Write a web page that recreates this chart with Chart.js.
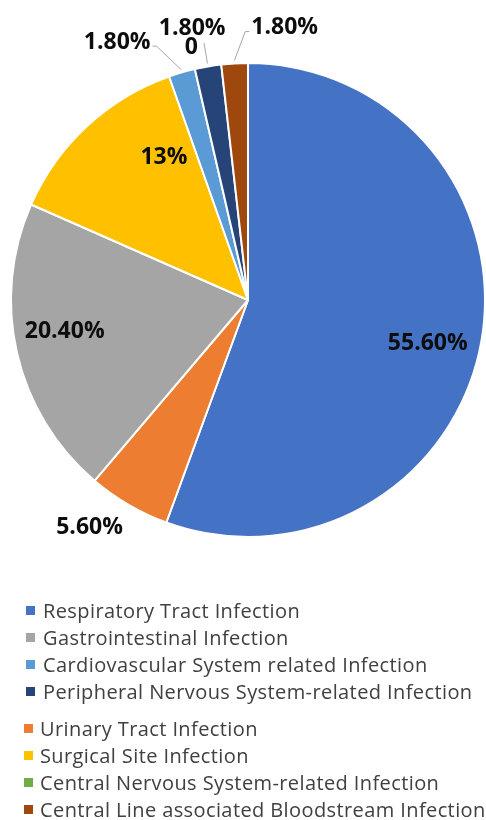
<!DOCTYPE html>
<html>
<head>
<meta charset="utf-8">
<script src="https://cdn.jsdelivr.net/npm/chart.js@4"></script>
<style>
  html, body { margin:0; padding:0; background:#fff; width:486px; height:820px; overflow:hidden; }
  #wrap { position:absolute; left:0; top:0; width:486px; height:600px; }
  #legend { position:absolute; left:0; top:597px; width:486px; font-family:"Open Sans", sans-serif; font-size:20px; letter-spacing:0.4px; color:#404040; white-space:nowrap; overflow:hidden; }
  .grp { margin-bottom:10px; }
  .item { height:27px; line-height:27px; position:relative; }
  .box { position:absolute; top:9px; width:9px; height:9px; }
</style>
</head>
<body>
<div id="wrap"><canvas id="pieChart"></canvas></div>
<div id="legend"></div>
<script>
const categories = ['Respiratory Tract Infection','Urinary Tract Infection','Gastrointestinal Infection','Surgical Site Infection',
  'Cardiovascular System related Infection','Central Nervous System-related Infection','Peripheral Nervous System-related Infection',
  'Central Line associated Bloodstream Infection'];
const shares = [55.6, 5.6, 20.4, 13, 1.8, 0, 1.8, 1.8];
const shareLabels = ['55.60%','5.60%','20.40%','13%','1.80%','0','1.80%','1.80%'];
const sliceColors = ['#4472C4','#ED7D31','#A5A5A5','#FFC000','#5B9BD5','#70AD47','#264478','#9E480E'];
// legend shows two stacked groups, in this order
const legendGroups = [
  ['Respiratory Tract Infection','Gastrointestinal Infection','Cardiovascular System related Infection','Peripheral Nervous System-related Infection'],
  ['Urinary Tract Infection','Surgical Site Infection','Central Nervous System-related Infection','Central Line associated Bloodstream Infection']
];

// label spots, polar around the pie: r = fraction of radius, d = degrees off the slice middle
const labelSpots = [
  {r:0.78, d:3.4}, {r:1.17, d:4.6}, {r:0.785, d:3.1}, {r:0.70, d:12.4},
  {r:1.22, d:-10.7, lead:'side'}, {r:1.09, d:0.3}, {r:1.17, d:-1.9, lead:'radial'}, {r:1.16, d:10.9, lead:'side'}
];

const sliceLabels = {
  id: 'sliceLabels',
  afterDatasetsDraw(chart) {
    const ctx = chart.ctx;
    const arcs = chart.getDatasetMeta(0).data;
    ctx.save();
    ctx.font = 'bold 23px "Open Sans", sans-serif';
    ctx.textAlign = 'center';
    ctx.textBaseline = 'middle';
    arcs.forEach((arc, i) => {
      const p = arc.getProps(['x','y','startAngle','endAngle','outerRadius'], true);
      const mid = (p.startAngle + p.endAngle) / 2;
      const spot = labelSpots[i];
      const a = mid + spot.d * Math.PI / 180;
      const lx = p.x + Math.cos(a) * p.outerRadius * spot.r;
      const ly = p.y + Math.sin(a) * p.outerRadius * spot.r;
      const txt = shareLabels[i];
      const w = ctx.measureText(txt).width;
      ctx.strokeStyle = '#a6a6a6';
      ctx.lineWidth = 1;
      const ex = p.x + Math.cos(mid) * (p.outerRadius + 3);
      const ey = p.y + Math.sin(mid) * (p.outerRadius + 3);
      if (spot.lead === 'side') {
        const left = lx < ex;
        const sx = left ? lx + w / 2 + 2 : lx - w / 2 - 2;
        const sy = ly + 4;
        const kx = left ? sx + 4 : sx - 4;
        ctx.beginPath();
        ctx.moveTo(sx, sy); ctx.lineTo(kx, sy); ctx.lineTo(ex, ey);
        ctx.stroke();
      } else if (spot.lead === 'radial') {
        ctx.beginPath();
        ctx.moveTo(p.x + Math.cos(mid) * p.outerRadius * 1.10, p.y + Math.sin(mid) * p.outerRadius * 1.10);
        ctx.lineTo(ex, ey);
        ctx.stroke();
      }
      ctx.fillStyle = '#0d0d0d';
      ctx.fillText(txt, lx, ly);
    });
    ctx.restore();
  }
};

const chart = new Chart(document.getElementById('pieChart').getContext('2d'), {
  type: 'pie',
  data: {
    labels: categories,
    datasets: [{data: shares, backgroundColor: sliceColors, borderColor:'#ffffff', borderWidth:2}]
  },
  options: {
    responsive:true,
    maintainAspectRatio:false,
    animation:false,
    layout:{padding:{left:10, right:0, top:62, bottom:62}},
    plugins:{legend:{display:false}, tooltip:{enabled:false}}
  },
  plugins:[sliceLabels]
});

// html legend built from the chart's own legend items
const items = chart.options.plugins.legend.labels.generateLabels(chart);
const legendEl = document.getElementById('legend');
legendGroups.forEach((grp, g) => {
  const div = document.createElement('div');
  div.className = 'grp';
  grp.forEach(name => {
    const it = items.find(x => x.text === name);
    const row = document.createElement('div');
    row.className = 'item';
    row.style.paddingLeft = (g === 0 ? 43 : 40) + 'px';
    const box = document.createElement('span');
    box.className = 'box';
    box.style.left = (g === 0 ? 26 : 24) + 'px';
    box.style.background = it.fillStyle;
    row.appendChild(box);
    row.appendChild(document.createTextNode(it.text));
    div.appendChild(row);
  });
  legendEl.appendChild(div);
});
</script>
</body>
</html>
